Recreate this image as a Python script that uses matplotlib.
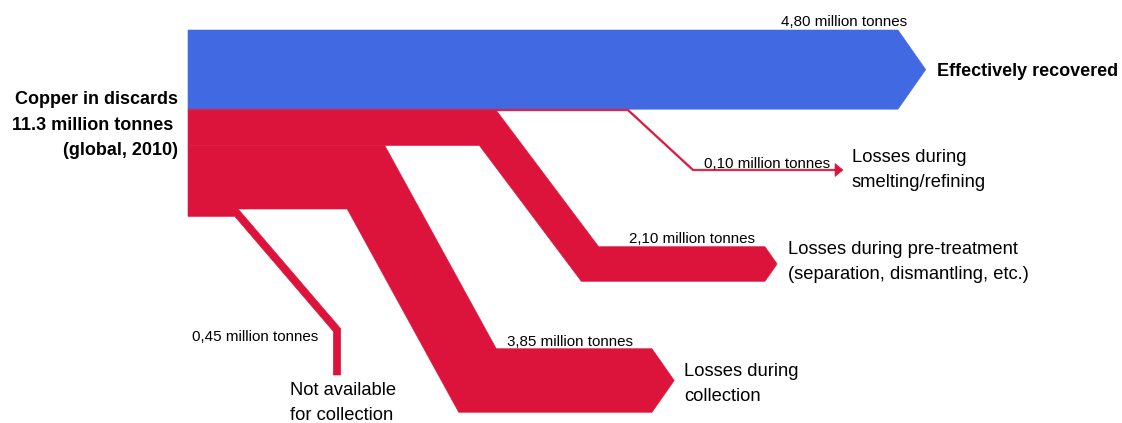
import matplotlib.pyplot as plt
from matplotlib.patches import Polygon
import numpy as np

plt.rcParams['font.family'] = ['Liberation Sans', 'DejaVu Sans']

# copper flows out of discards, million tonnes (global, 2010)
source_label = "Copper in discards\n11.3 million tonnes \n(global, 2010)"
flow_values = [4.80, 0.10, 2.10, 3.85, 0.45]
flow_names = ["Effectively recovered",
              "Losses during\nsmelting/refining",
              "Losses during pre-treatment\n(separation, dismantling, etc.)",
              "Losses during\ncollection",
              "Not available\nfor collection"]
value_labels = ["4,80 million tonnes", "0,10 million tonnes", "2,10 million tonnes",
                "3,85 million tonnes", "0,45 million tonnes"]
flow_colors = ["#4169E1", "#DC143C", "#DC143C", "#DC143C", "#DC143C"]

# drawing is done in pixel units (y pointing down)
W, H = 1122, 423
x0, y0 = 188, 30
px_per_mt = 16.5

# centreline waypoints after the common start (x of bends, y of the end leg)
routes = [
    [(898, None)],
    [(628, None), (693, 170), (835, 170)],
    [(488, None), (590, 264), (765, 264)],
    [(366, None), (477.5, 380.5), (652, 380.5)],
    [(236.5, None), (337, 330), (337, 375)],
]
heads = ["chevron", "arrow", "chevron", "chevron", None]
# name text: (x, y, ha, bold)
name_pos = [(937, 72, 'left', True), (852, 170, 'left', False), (788, 262, 'left', False),
            (684, 384, 'left', False), (290, 403, 'left', False)]
# value text: (x, baseline y)
value_pos = [(907, 26), (830, 168), (755, 243), (633, 346), (318, 341)]


def ribbon(pts, w):
    # offset a polyline by +-w/2 using mitred corners
    pts = np.asarray(pts, float)
    segs = np.diff(pts, axis=0)
    segs = segs / np.linalg.norm(segs, axis=1)[:, None]
    norms = np.column_stack([-segs[:, 1], segs[:, 0]])
    side_a, side_b = [], []
    for i in range(len(pts)):
        if i == 0:
            m = norms[0]
        elif i == len(pts) - 1:
            m = norms[-1]
        else:
            avg = norms[i - 1] + norms[i]
            avg = avg / np.linalg.norm(avg)
            m = avg / np.dot(avg, norms[i])
        side_a.append(pts[i] + m * w / 2)
        side_b.append(pts[i] - m * w / 2)
    return side_a, side_b


fig = plt.figure(figsize=(W / 100, H / 100), dpi=100)
ax = fig.add_axes([0, 0, 1, 1])
ax.set_xlim(0, W)
ax.set_ylim(H, 0)
ax.axis('off')

top = y0
for val, route, head, col in zip(flow_values, routes, heads, flow_colors):
    w = val * px_per_mt
    c = top + w / 2
    pts = [(x0, c)] + [(x, c if y is None else y) for x, y in route]
    a, b = ribbon(pts, w)
    poly = list(a)
    end = np.array(pts[-1], float)
    if head == "chevron":
        poly.append(end + [0.7 * w / 2, 0])
    poly += b[::-1]
    ax.add_patch(Polygon(poly, closed=True, facecolor=col, edgecolor=col, lw=0.4))
    if head == "arrow":
        ax.add_patch(Polygon([end + [0, -6.5], end + [8, 0], end + [0, 6.5]],
                             closed=True, facecolor=col, edgecolor=col, lw=0.4))
    top += w

for name, (x, y, ha, bold) in zip(flow_names, name_pos):
    ax.text(x, y, name, ha=ha, va='center', fontsize=13 if bold else 13.2,
            linespacing=1.6, fontweight='bold' if bold else 'normal')

for lab, (x, y) in zip(value_labels, value_pos):
    ax.text(x, y, lab, ha='right', va='baseline', fontsize=10.9)

ax.text(178, 125, source_label, ha='right', va='center', fontsize=13,
        fontweight='bold', linespacing=1.65, multialignment='right')

fig.savefig("out.png", dpi=100)
